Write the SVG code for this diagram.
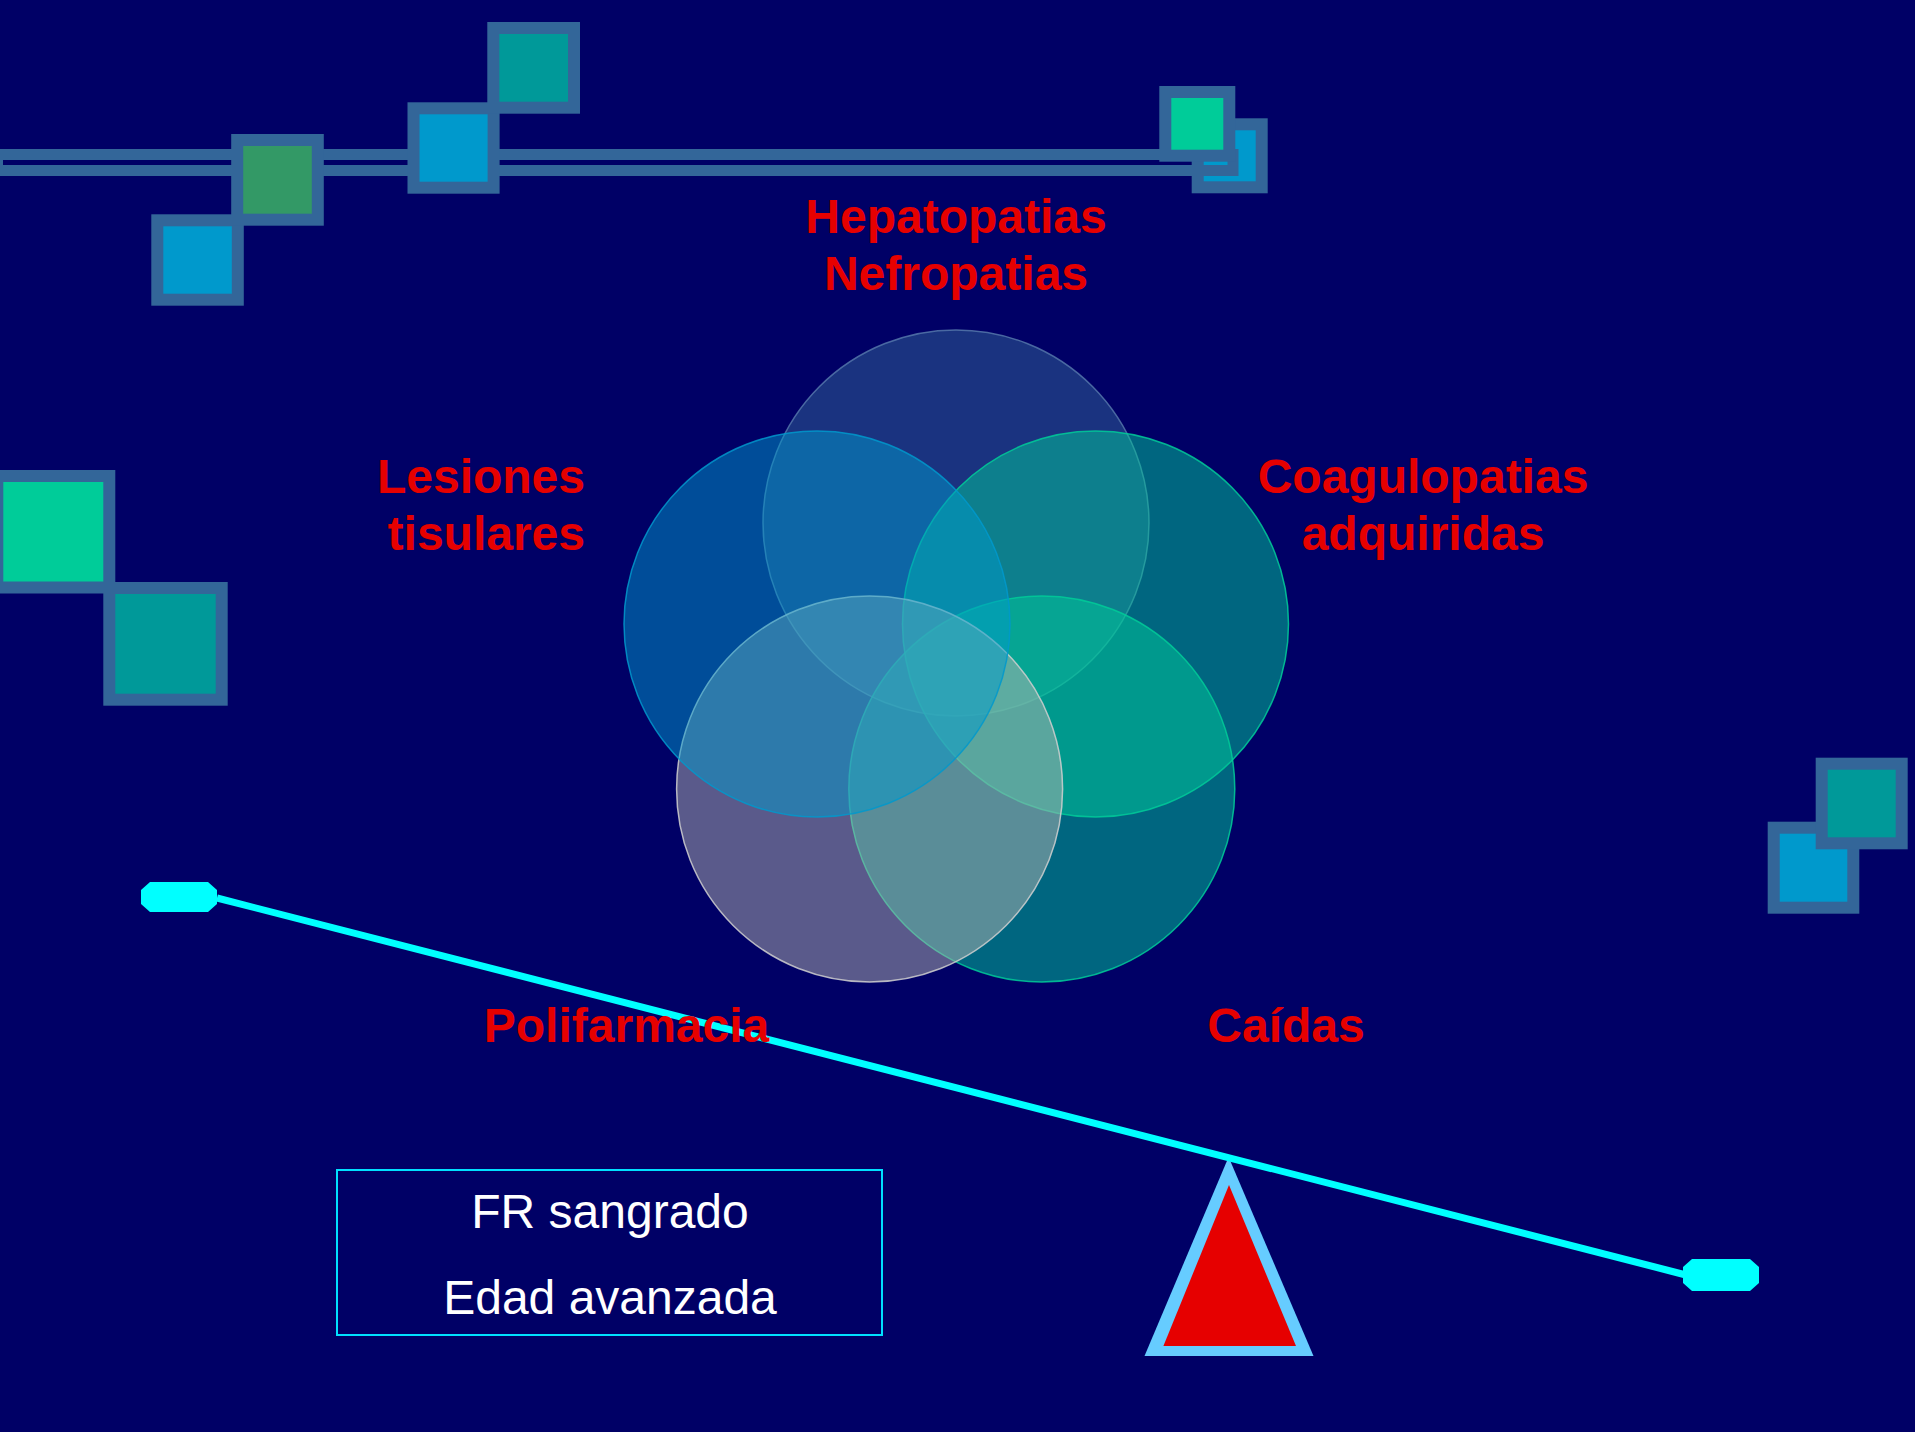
<svg xmlns="http://www.w3.org/2000/svg" width="1915" height="1432" viewBox="0 0 1915 1432">
<style>
.sq{stroke:#336699;stroke-width:12}
.sqs{stroke:#336699;stroke-width:12}
.blue{fill:#0099cc}
.teal{fill:#009999}
.green{fill:#339966}
.lgreen{fill:#00cc99}
.lbl{font-family:"Liberation Sans",Arial,sans-serif;font-weight:bold;font-size:48px;fill:#e60000}
.box{font-family:"Liberation Sans",Arial,sans-serif;font-size:48px;fill:#ffffff;text-anchor:middle}
.c{fill-opacity:0.5;stroke-width:1.5;stroke-opacity:0.85}
.cap{fill:#00ffff}
</style>
<rect x="0" y="0" width="1915" height="1432" fill="#000066"/>

<g id="decor">
  <rect class="sq blue" x="1197.7" y="124.3" width="64" height="63"/>
  <rect id="rail" x="-2.5" y="154.5" width="1235.5" height="16" fill="none" stroke="#336699" stroke-width="11"/>
  <rect class="sq blue" x="157.3" y="220.3" width="80.5" height="79.4"/>
  <rect class="sq green" x="237.2" y="140" width="80.6" height="79.7"/>
  <rect class="sq blue" x="413.5" y="108.3" width="80.1" height="79.4"/>
  <rect class="sq teal" x="493.3" y="28" width="80.7" height="79.7"/>
  <rect class="sq lgreen" x="1165.3" y="92" width="64" height="63.7"/>
  <rect class="sq lgreen" x="-2.7" y="476" width="112" height="111.5"/>
  <rect class="sq teal" x="109.3" y="588" width="112.4" height="111.7"/>
  <rect class="sq blue" x="1773.7" y="827.7" width="79.6" height="80"/>
  <rect class="sq teal" x="1821.7" y="763.7" width="80" height="79.6"/>
</g>

<g id="venn">
  <circle id="c-top" class="c" cx="956" cy="523" r="193" fill="#336699" stroke="#5577aa"/>
  <circle id="c-right" class="c" cx="1095.5" cy="624" r="193" fill="#00cc99" stroke="#00cc99"/>
  <circle id="c-bright" class="c" cx="1041.8" cy="789" r="193" fill="#00cc99" stroke="#00cc99"/>
  <circle id="c-bleft" class="c" cx="869.6" cy="789" r="193" fill="#b3b3b0" stroke="#d0d0d0"/>
  <circle id="c-left" class="c" cx="817" cy="624" r="193" fill="#0099cc" stroke="#0099cc"/>
</g>

<g id="balance">
  <polygon id="fulcrum-outer" points="1228.6,1157 1144.5,1356 1313.5,1356" fill="#66ccff"/>
  <polygon id="fulcrum" points="1229,1185 1163.4,1346 1296,1346" fill="#e60000"/>
</g>

<g id="connectors">
  <line id="lever" x1="217" y1="898" x2="1684" y2="1274.5" stroke="#00ffff" stroke-width="7"/>
  <polygon class="cap" points="150,882 208,882 217,890 217,904 208,912 150,912 141,904 141,890"/>
  <polygon class="cap" points="1692,1259 1750,1259 1759,1267 1759,1283 1750,1291 1692,1291 1683,1283 1683,1267"/>
</g>

<g id="labels">
  <text class="lbl" x="956" y="233" text-anchor="middle">Hepatopatias</text>
  <text class="lbl" x="956" y="290" text-anchor="middle">Nefropatias</text>
  <text class="lbl" x="585" y="493" text-anchor="end">Lesiones</text>
  <text class="lbl" x="585" y="550" text-anchor="end">tisulares</text>
  <text class="lbl" x="1423" y="493" text-anchor="middle">Coagulopatias</text>
  <text class="lbl" x="1423" y="550" text-anchor="middle">adquiridas</text>
  <text class="lbl" x="626.5" y="1042" text-anchor="middle">Polifarmacia</text>
  <text class="lbl" x="1286" y="1042" text-anchor="middle">Caídas</text>
</g>

<g id="risk-box">
  <rect x="337" y="1170" width="545" height="165" fill="none" stroke="#00e0ff" stroke-width="2"/>
  <text class="box" x="610" y="1228">FR sangrado</text>
  <text class="box" x="610" y="1314">Edad avanzada</text>
</g>
</svg>
